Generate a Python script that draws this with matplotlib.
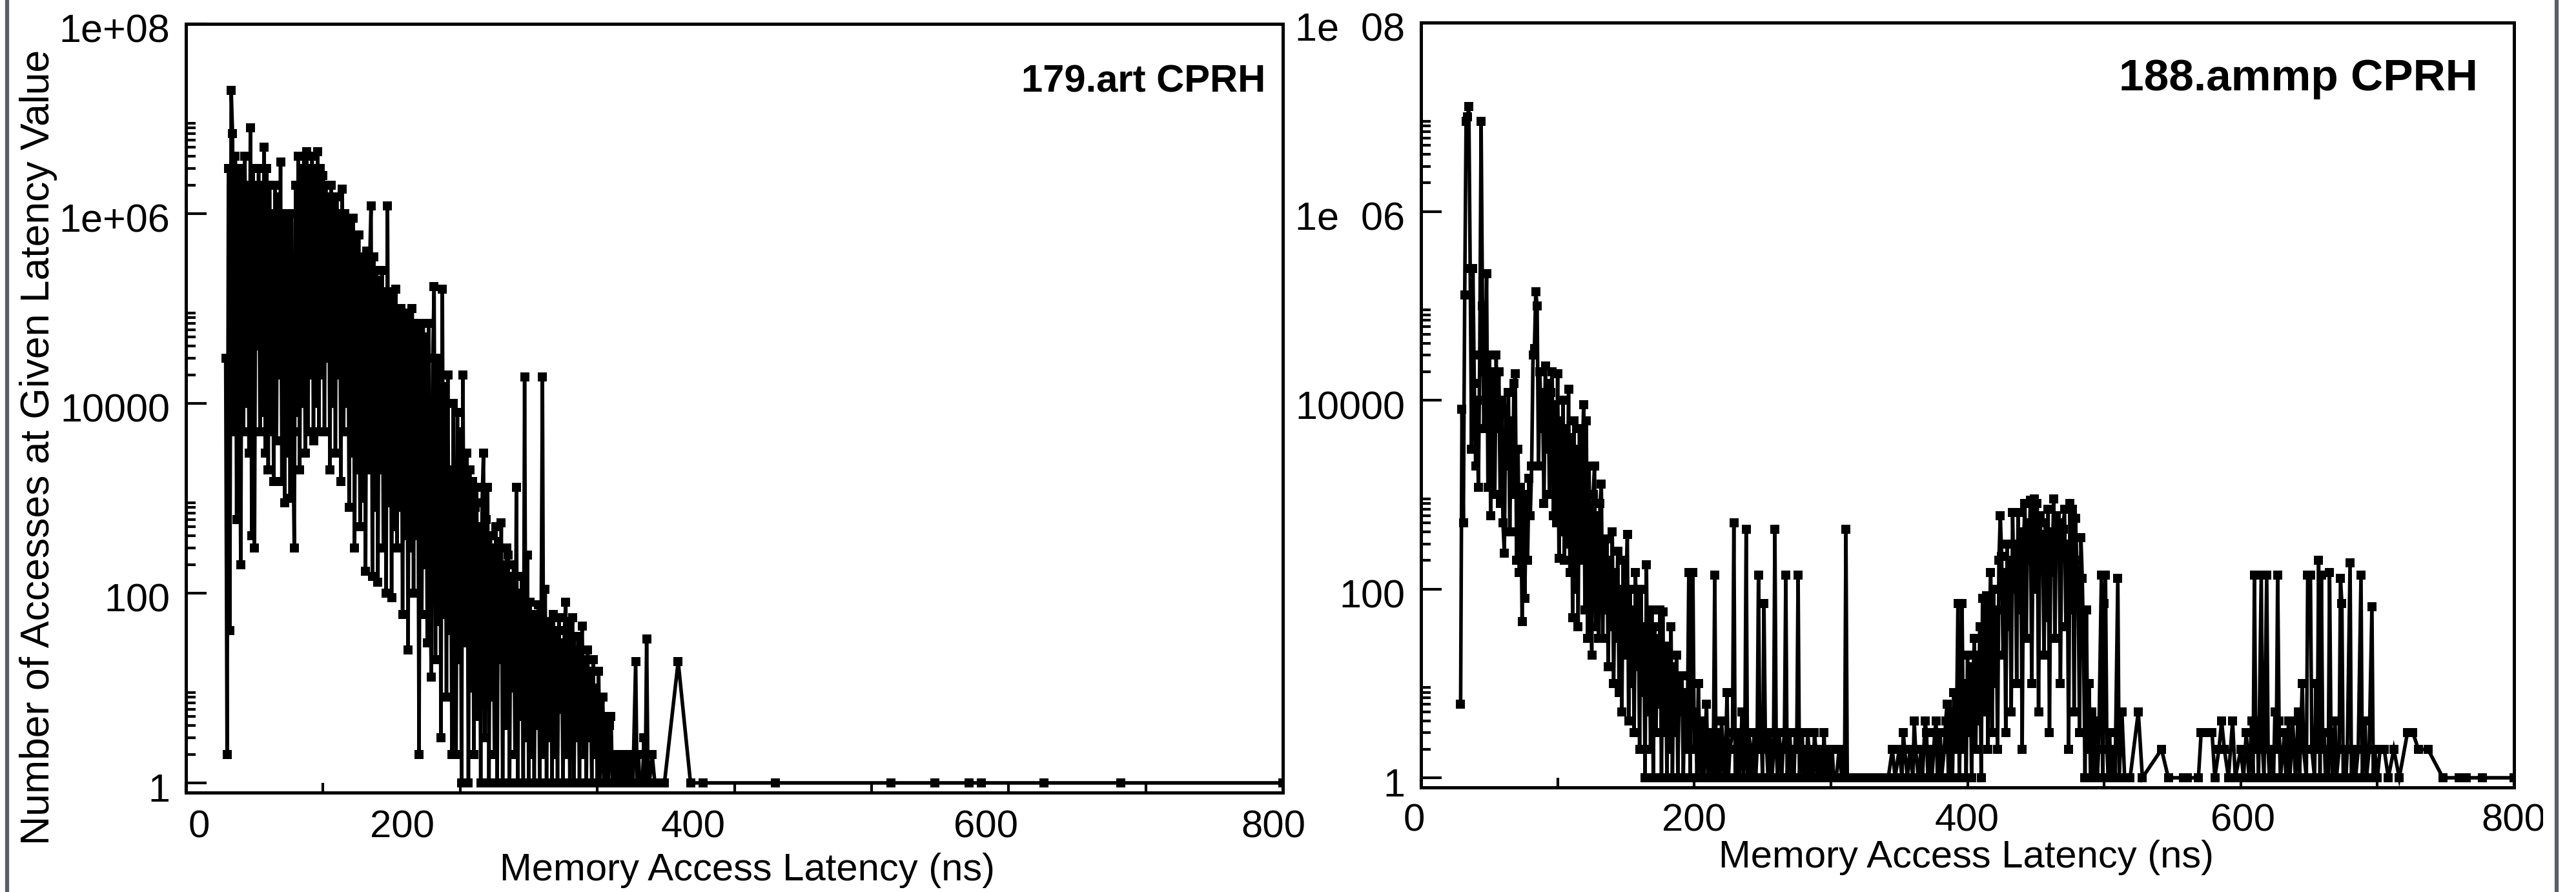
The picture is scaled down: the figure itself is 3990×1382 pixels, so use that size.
import matplotlib
matplotlib.use("Agg")
import matplotlib.pyplot as plt
from matplotlib.ticker import FixedLocator, NullFormatter
from matplotlib.lines import Line2D
from matplotlib.transforms import Bbox
import matplotlib.transforms as mtransforms

plt.rcParams['font.family'] = ['Liberation Sans', 'DejaVu Sans']

# ---------------- data: 179.art CPRH ----------------
art_latency = [
    29, 30, 31, 32, 33, 34, 35, 36, 37, 38, 39, 40, 41, 42, 43, 44, 45, 46, 47, 48,
    49, 50, 51, 52, 53, 54, 55, 56, 57, 58, 59, 60, 61, 62, 63, 64, 65, 66, 67, 68,
    69, 70, 71, 72, 73, 74, 75, 76, 77, 78, 79, 80, 81, 82, 83, 84, 85, 86, 87, 88,
    89, 90, 91, 92, 93, 94, 95, 96, 97, 98, 99, 100, 101, 102, 103, 104, 105, 106, 107, 108,
    109, 110, 111, 112, 113, 114, 115, 116, 117, 118, 119, 120, 121, 122, 123, 124, 125, 126, 127, 128,
    129, 130, 131, 132, 133, 134, 135, 136, 137, 138, 139, 140, 141, 142, 143, 144, 145, 146, 147, 148,
    149, 150, 151, 152, 153, 154, 155, 156, 157, 158, 159, 160, 161, 162, 163, 164, 165, 166, 167, 168,
    169, 170, 171, 172, 173, 174, 175, 176, 177, 178, 179, 180, 181, 182, 183, 184, 185, 186, 187, 188,
    189, 190, 191, 192, 193, 194, 195, 196, 197, 198, 199, 200, 201, 202, 203, 204, 205, 206, 207, 208,
    209, 210, 211, 212, 213, 214, 215, 216, 217, 218, 219, 220, 221, 222, 223, 224, 225, 226, 227, 228,
    229, 230, 231, 232, 233, 234, 235, 236, 237, 238, 239, 240, 241, 242, 243, 244, 245, 246, 247, 248,
    249, 250, 251, 252, 253, 254, 255, 256, 257, 258, 259, 260, 261, 262, 263, 264, 265, 266, 267, 268,
    269, 270, 271, 272, 273, 274, 275, 276, 277, 278, 279, 280, 281, 282, 283, 284, 285, 286, 287, 288,
    289, 290, 291, 292, 293, 294, 295, 296, 297, 298, 299, 300, 301, 302, 303, 304, 305, 306, 307, 308,
    309, 310, 311, 312, 313, 314, 315, 316, 317, 318, 319, 320, 321, 322, 323, 324, 325, 326, 328, 329,
    330, 331, 333, 334, 335, 336, 337, 338, 340, 342, 345, 349, 359, 368, 377, 430, 514, 546, 571, 580,
    626, 682, 800,
]
art_count = [
    3e4, 2, 3e6, 40, 2e7, 7e6, 5e3, 4e6, 600, 3e6, 2e4, 200, 3e6, 5e3, 4e6, 1e4, 2e6, 3e3, 8e6, 400,
    3e6, 300, 2e6, 4e4, 3e6, 5e3, 2e6, 8e3, 5e6, 3e3, 3e6, 2e3, 2e6, 5e3, 1e6, 1.5e3, 2e6, 4e3, 1.5e6, 2e4,
    3.5e6, 1.5e3, 1e6, 900, 8e5, 3e3, 9e5, 1e3, 1e6, 5e3, 300, 2e6, 8e3, 4e6, 2e3, 3e6, 1e4, 4e6, 3e3, 4.5e6,
    5e3, 3e6, 2e4, 4e6, 4e3, 3e6, 1e4, 4.5e6, 5e3, 3e6, 2e4, 2.5e6, 5e3, 2e6, 3e4, 1.5e6, 2e3, 2e6, 1e4, 1.2e6,
    3e3, 1.5e6, 2e4, 1e6, 1.5e3, 1.8e6, 5e3, 1e6, 1e4, 7e5, 800, 8e5, 3e3, 9e5, 300, 5e5, 2e3, 6e5, 500, 3e5,
    1e3, 3.5e5, 170, 4e5, 2e3, 3e5, 1.2e6, 150, 3.5e5, 800, 2.5e5, 130, 2e5, 2e3, 2.5e5, 300, 1.5e5, 100, 1.2e6, 900,
    1.5e5, 90, 1.2e5, 500, 1.6e5, 300, 1e5, 800, 1e5, 60, 9e4, 400, 8e4, 25, 9e4, 300, 1e5, 100, 7e4, 400,
    6e4, 2, 5e4, 60, 7e4, 200, 5e4, 30, 7e4, 100, 13, 3e4, 1.7e5, 20, 2.5e4, 50, 3e4, 3, 1.6e5, 60,
    1.5e4, 8, 2e4, 40, 2e3, 2, 1e4, 30, 2, 8e3, 20, 5e3, 1, 2e4, 30, 2e3, 3e3, 1, 2e3, 10,
    1.5e3, 2, 800, 1.3e3, 5, 500, 1, 900, 3e3, 3, 600, 1.3e3, 1, 400, 8, 300, 2, 500, 1, 350,
    20, 550, 1, 200, 4, 300, 250, 1, 150, 10, 200, 2, 1.3e3, 1, 100, 5, 150, 1, 1.9e4, 3,
    250, 1, 80, 2, 50, 1, 60, 4, 75, 1, 30, 1.9e4, 2, 110, 1, 40, 3, 50, 1, 60,
    2, 40, 1, 55, 6, 30, 1, 40, 80, 2, 50, 1, 30, 55, 1, 25, 3, 35, 1, 20,
    45, 2, 20, 1, 25, 3, 15, 1, 20, 2, 10, 1, 15, 1, 3, 8, 1, 5, 2, 1,
    4, 5, 1, 2, 2, 1, 2, 1, 2, 1, 1, 2, 1, 2, 1, 2, 1, 1, 19, 1,
    2, 1, 1, 3, 1, 33, 1, 1, 2, 1, 1, 1, 19, 1, 1, 1, 1, 1, 1, 1,
    1, 1, 1,
]

# ---------------- data: 188.ammp CPRH ----------------
ammp_latency = [
    29, 30, 31, 32, 33, 34, 35, 36, 37, 38,
    39, 40, 41, 42, 43, 44, 45, 46, 47, 48,
    49, 50, 51, 52, 53, 54, 55, 56, 57, 58,
    59, 60, 61, 62, 63, 64, 65, 66, 67, 68,
    69, 70, 71, 72, 73, 74, 75, 76, 77, 78,
    79, 80, 81, 82, 83, 84, 85, 86, 87, 88,
    89, 90, 91, 92, 93, 94, 95, 96, 97, 98,
    99, 100, 101, 102, 103, 104, 105, 106, 107, 108,
    109, 110, 111, 112, 113, 114, 115, 116, 117, 118,
    119, 120, 121, 122, 123, 124, 125, 126, 127, 128,
    129, 130, 131, 132, 133, 134, 135, 136, 137, 138,
    139, 140, 141, 142, 143, 144, 145, 146, 147, 148,
    149, 150, 151, 152, 153, 154, 155, 156, 157, 158,
    159, 160, 161, 162, 163, 164, 165, 166, 167, 168,
    169, 170, 171, 172, 173, 174, 175, 176, 177, 178,
    179, 180, 181, 182, 183, 184, 185, 186, 187, 188,
    189, 190, 191, 192, 193, 194, 195, 196, 197, 198,
    199, 200, 201, 202, 203, 204, 205, 206, 207, 208,
    209, 210, 211, 212, 213, 214, 215, 216, 217, 218,
    219, 220, 221, 222, 223, 224, 225, 226, 228, 229,
    230, 231, 232, 233, 234, 235, 236, 237, 238, 239,
    240, 241, 242, 243, 244, 245, 246, 247, 248, 249,
    250, 251, 252, 253, 254, 255, 256, 257, 258, 259,
    260, 261, 262, 263, 264, 265, 266, 267, 268, 269,
    270, 271, 272, 273, 274, 275, 276, 277, 278, 279,
    280, 281, 282, 283, 284, 285, 286, 287, 288, 289,
    290, 291, 292, 293, 294, 295, 296, 297, 298, 299,
    300, 301, 302, 304, 306, 308, 309, 310, 311, 312,
    316, 320, 326, 332, 338, 342, 345, 347, 350, 352,
    353, 354, 356, 358, 360, 361, 362, 364, 366, 367,
    369, 370, 371, 373, 374, 376, 377, 378, 380, 381,
    383, 384, 385, 386, 387, 388, 389, 390, 391, 392,
    393, 394, 395, 396, 397, 398, 399, 400, 401, 402,
    403, 404, 405, 406, 407, 408, 409, 410, 411, 412,
    413, 414, 415, 416, 417, 418, 419, 420, 421, 422,
    423, 424, 425, 426, 427, 428, 429, 430, 431, 432,
    433, 434, 435, 436, 437, 438, 439, 440, 441, 442,
    443, 444, 445, 446, 447, 448, 449, 450, 451, 452,
    453, 454, 455, 456, 457, 458, 459, 460, 461, 462,
    463, 464, 465, 466, 467, 468, 469, 470, 471, 472,
    473, 474, 475, 476, 477, 478, 479, 480, 481, 482,
    483, 484, 485, 486, 487, 488, 489, 490, 491, 492,
    493, 494, 495, 496, 498, 499, 500, 501, 502, 503,
    504, 505, 507, 508, 510, 511, 513, 515, 519, 525,
    528, 542, 547, 558, 561, 569, 571, 575, 579, 581,
    584, 586, 588, 591, 594, 596, 600, 602, 604, 606,
    608, 609, 610, 611, 612, 613, 615, 616, 617, 619,
    620, 621, 623, 624, 625, 626, 627, 628, 629, 631,
    632, 633, 634, 635, 636, 637, 638, 640, 641, 642,
    643, 645, 646, 648, 649, 650, 651, 652, 654, 655,
    656, 657, 658, 659, 660, 661, 662, 663, 664, 665,
    666, 667, 668, 669, 670, 672, 673, 674, 675, 676,
    677, 678, 680, 681, 683, 684, 686, 688, 689, 690,
    691, 692, 694, 696, 697, 698, 700, 702, 705, 708,
    712, 716, 722, 724, 726, 730, 737, 748, 760, 765,
    777, 800,
]
ammp_count = [
    6, 8e3, 500, 1.3e5, 9e6, 1e7, 1.3e7, 2.5e5, 3e3, 2.5e5,
    1.5e4, 2e3, 1e4, 1.2e3, 3e4, 9e6, 1e5, 5e3, 2e4, 2.2e5,
    1.2e3, 3e4, 600, 8e3, 2e4, 1e3, 3e4, 5e3, 2e4, 800,
    1e4, 500, 240, 8e3, 2e3, 1.2e4, 400, 6e3, 1e3, 1.5e4,
    1.9e4, 200, 3e3, 150, 1.2e3, 45, 800, 80, 1e3, 200,
    1.5e3, 600, 2e3, 3e4, 3.5e4, 1.4e5, 1e5, 2e3, 2e4, 5e3,
    1.2e4, 800, 2.3e4, 3e3, 1.5e4, 1e3, 1.2e4, 2e4, 600, 9e3,
    500, 1.9e4, 210, 6e3, 400, 1e4, 200, 5e3, 300, 1.3e4,
    150, 4e3, 50, 6e3, 100, 3e3, 40, 5e3, 200, 2e3,
    9e3, 60, 6e3, 30, 2e3, 100, 20, 1e3, 2e3, 40,
    600, 30, 800, 1.3e3, 30, 300, 60, 340, 15, 200,
    40, 400, 10, 150, 30, 250, 8, 100, 5, 200,
    20, 100, 380, 4, 100, 10, 60, 3, 150, 15,
    80, 2, 100, 8, 40, 1, 180, 5, 50, 2,
    60, 1, 40, 3, 30, 6, 60, 1, 57, 3,
    20, 1, 25, 2, 40, 1, 15, 3, 20, 1,
    10, 5, 12, 1, 8, 2, 4, 150, 1, 150,
    150, 2, 5, 1, 10, 2, 1, 4, 1, 3,
    6, 1, 2, 3, 1, 2, 140, 1, 3, 2,
    1, 4, 2, 1, 2, 8, 1, 2, 3, 500,
    1, 2, 3, 1, 2, 5, 1, 2, 430, 1,
    3, 2, 1, 2, 3, 1, 2, 140, 2, 3,
    1, 70, 3, 2, 1, 3, 2, 1, 2, 430,
    2, 1, 3, 2, 1, 2, 3, 140, 1, 2,
    3, 1, 2, 1, 3, 2, 140, 1, 2, 3,
    1, 2, 1, 3, 2, 1, 2, 1, 3, 2,
    1, 2, 1, 2, 1, 3, 1, 2, 1, 2,
    1, 2, 1, 1, 2, 1, 2, 1, 430, 1,
    1, 1, 1, 1, 1, 1, 2, 1, 2, 1,
    3, 2, 1, 2, 1, 4, 2, 1, 2, 1,
    4, 3, 1, 2, 1, 3, 4, 1, 3, 1,
    2, 4, 6, 1, 3, 5, 1, 8, 2, 4,
    70, 1, 5, 70, 2, 10, 1, 20, 3, 15,
    1, 10, 30, 2, 20, 4, 40, 1, 80, 5,
    30, 85, 2, 50, 150, 3, 100, 10, 60, 2,
    200, 600, 220, 20, 150, 3, 300, 40, 200, 5,
    650, 100, 300, 10, 650, 60, 400, 2, 300, 800,
    30, 500, 200, 870, 10, 400, 900, 100, 800, 5,
    600, 300, 380, 20, 500, 50, 700, 3, 400, 150,
    900, 30, 600, 250, 500, 10, 400, 430, 700, 40,
    300, 2, 800, 60, 700, 5, 560, 200, 100, 3,
    350, 130, 20, 1, 60, 2, 10, 1, 5, 2,
    1, 4, 1, 2, 140, 1, 70, 140, 2, 1,
    3, 1, 2, 1, 130, 1, 5, 1, 1, 5,
    1, 2, 1, 1, 1, 1, 3, 3, 3, 1,
    2, 4, 2, 1, 4, 1, 2, 1, 3, 1,
    4, 1, 140, 2, 4, 1, 140, 2, 1, 140,
    2, 1, 2, 1, 5, 2, 140, 4, 1, 2,
    3, 1, 2, 4, 1, 2, 4, 1, 2, 5,
    1, 10, 2, 1, 140, 140, 140, 2, 1, 10,
    2, 200, 1, 140, 2, 3, 1, 2, 1, 150,
    3, 1, 2, 4, 1, 2, 130, 70, 1, 2,
    1, 2, 190, 1, 2, 1, 2, 140, 1, 2,
    4, 1, 2, 65, 1, 2, 1, 2, 2, 1,
    2, 1, 3, 3, 3, 2, 2, 1, 1, 1,
    1, 1,
]

panel_titles = ["179.art CPRH", "188.ammp CPRH"]
y_major = [1, 100, 1e4, 1e6, 1e8]
art_ylabels = ["1", "100", "10000", "1e+06", "1e+08"]
ammp_ylabels = ["1", "100", "10000", "1e  06", "1e  08"]
x_major = [0, 200, 400, 600, 800]
x_minor = [100, 300, 500, 700]
x_labels = ["0", "200", "400", "600", "800"]
y_minor = [k * 10.0 ** m for m in (0, 2, 4, 6) for k in range(2, 10)]

# layout (figure pixels) of the x tick labels as printed in the original
art_xlabel_px = [308, 623, 1074, 1527, 1972]
ammp_xlabel_px = [2190, 2624, 3047, 3474, 3893]

W, H = 3990, 1382
fig = plt.figure(figsize=(W / 100, H / 100), dpi=100)
fig.patch.set_facecolor("white")

def rect(x0, y0, x1, y1):
    return [x0 / W, 1 - y1 / H, (x1 - x0) / W, (y1 - y0) / H]

ax1 = fig.add_axes(rect(288, 37, 1987, 1228))
ax2 = fig.add_axes(rect(2201, 35, 3894, 1220))

for ax, xs, ys, ylabs in ((ax1, art_latency, art_count, art_ylabels),
                          (ax2, ammp_latency, ammp_count, ammp_ylabels)):
    ax.plot(xs, ys, color="black", lw=4.0, marker="s", ms=9.5, mew=0,
            solid_joinstyle="miter")
    ax.set_yscale("log")
    ax.set_xlim(0, 800)
    ax.set_ylim(0.79, 1e8)
    ax.yaxis.set_major_locator(FixedLocator(y_major))
    ax.yaxis.set_minor_locator(FixedLocator(y_minor))
    ax.yaxis.set_minor_formatter(NullFormatter())
    ax.set_yticklabels(ylabs)
    ax.xaxis.set_major_locator(FixedLocator(x_major))
    ax.xaxis.set_minor_locator(FixedLocator(x_minor))
    ax.set_xticklabels([])
    ax.tick_params(axis="y", which="major", direction="in", length=23, width=3,
                   labelsize=44, pad=18, right=False)
    ax.tick_params(axis="y", which="minor", direction="in", length=11, width=3, right=False)
    ax.tick_params(axis="x", which="both", direction="in", length=11, width=3, top=False)
    for sp in ax.spines.values():
        sp.set_linewidth(3.6)
    off = mtransforms.ScaledTranslation(0, -0.07, fig.dpi_scale_trans)
    for lab in ax.get_yticklabels():
        lab.set_transform(lab.get_transform() + off)

for px, lab in zip(art_xlabel_px, x_labels):
    fig.text(px / W, 1 - 1282 / H, lab, ha="center", va="center", fontsize=43)
for px, lab in zip(ammp_xlabel_px, x_labels):
    t = fig.text(px / W, 1 - 1272 / H, lab, ha="center", va="center", fontsize=43)
    # the original figure is cropped just after the last label
    t.set_clip_box(Bbox([[0, 0], [3939, H]]))
    t.set_clip_on(True)

fig.text(1960 / W, 1 - 127 / H, panel_titles[0], ha="right", va="center",
         fontsize=43, fontweight="bold")
fig.text(3838 / W, 1 - 122 / H, panel_titles[1], ha="right", va="center",
         fontsize=50, fontweight="bold")

fig.text(60 / W, 1 - 693 / H, "Number of Accesses at Given Latency Value",
         rotation=90, ha="center", va="center", fontsize=45)
fig.text(1158 / W, 1 - 1349 / H, "Memory Access Latency (ns)",
         ha="center", va="center", fontsize=43)
fig.text(3046 / W, 1 - 1328 / H, "Memory Access Latency (ns)",
         ha="center", va="center", fontsize=43)

fig.add_artist(Line2D([11 / W, 11 / W], [0, 1], color="#5b5f66", lw=4.5,
                      transform=fig.transFigure))
fig.add_artist(Line2D([3960 / W, 3960 / W], [0, 1], color="#5b5f66", lw=4.5,
                      transform=fig.transFigure))

fig.savefig("out.png", dpi=100, facecolor="white")
